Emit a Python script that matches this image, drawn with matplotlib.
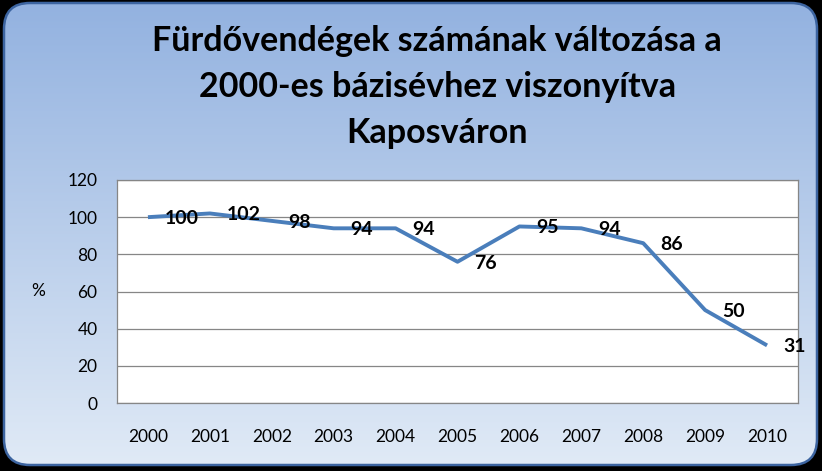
import numpy as np
import matplotlib
matplotlib.use("Agg")
import matplotlib.pyplot as plt
from matplotlib.patches import FancyBboxPatch

years = ["2000", "2001", "2002", "2003", "2004", "2005",
         "2006", "2007", "2008", "2009", "2010"]
values = [100, 102, 98, 94, 94, 76, 95, 94, 86, 50, 31]
y_ticks = [0, 20, 40, 60, 80, 100, 120]

title = "Fürdővendégek számának változása a\n2000-es bázisévhez viszonyítva\nKaposváron"

plt.rcParams["font.family"] = ["Lato", "DejaVu Sans"]

W, H = 822, 471
fig = plt.figure(figsize=(W / 100, H / 100), dpi=100, facecolor="black")

# background panel with vertical gradient
bg = fig.add_axes([0, 0, 1, 1])
bg.set_xlim(0, W)
bg.set_ylim(0, H)
bg.axis("off")
grad = np.linspace(0, 1, 256).reshape(-1, 1)
top = np.array([0x93, 0xB2, 0xE0]) / 255
bot = np.array([0xE0, 0xEA, 0xF6]) / 255
img = top + (bot - top) * grad[..., None]
panel = FancyBboxPatch((4, 6), W - 9, H - 9,
                       boxstyle="round,pad=0,rounding_size=26",
                       facecolor="none", edgecolor="#3c64a0", linewidth=1.8)
bg.add_patch(panel)
im = bg.imshow(img, extent=[4, W - 5, 6, H - 3], aspect="auto",
               origin="upper", zorder=0)
im.set_clip_path(panel)

fig.text(0.532, 1 - 87 / H, title, ha="center", va="center",
         fontsize=24.5, fontweight="bold", linespacing=1.52, color="black")

# plot area
ax = fig.add_axes([117 / W, 1 - 403 / H, (798 - 117) / W, (403 - 180) / H])
ax.set_facecolor("white")
x = np.arange(len(years))
ax.plot(x, values, color="#4a7ebb", linewidth=2.8, solid_capstyle="butt",
        zorder=3)
for xi, v in zip(x, values):
    ax.annotate(str(v), (xi, v), xytext=(12, -1), textcoords="offset points",
                ha="left", va="center", fontsize=14, fontweight="bold",
                zorder=4)

ax.set_xlim(-0.5, len(years) - 0.5)
ax.set_ylim(0, 120)
ax.set_yticks(y_ticks)
ax.set_xticks(x)
ax.set_xticklabels(years)
ax.grid(axis="y", color="#868686", linewidth=0.9)
ax.set_axisbelow(True)
ax.tick_params(axis="both", length=0, labelsize=12.5, colors="black")
ax.tick_params(axis="x", pad=19)
ax.tick_params(axis="y", pad=14)
for s in ax.spines.values():
    s.set_color("#868686")
    s.set_linewidth(0.9)
ax.set_ylabel("%", rotation=0, fontsize=12.5, labelpad=21, va="center")

fig.savefig("out.png", dpi=100, facecolor="black")
